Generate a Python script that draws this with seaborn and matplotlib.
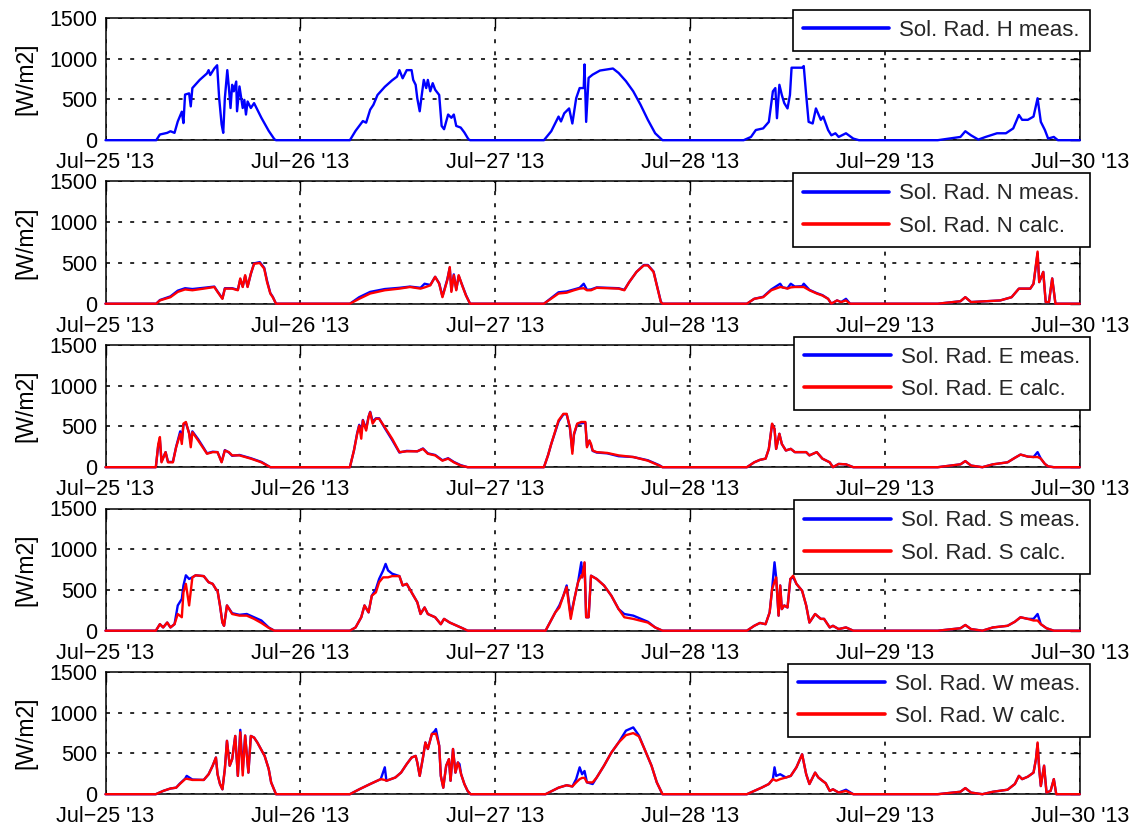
import numpy as np
import pandas as pd
import matplotlib
matplotlib.use("Agg")
import matplotlib.pyplot as plt
import matplotlib.dates as mdates
from matplotlib.lines import Line2D
import seaborn as sns

START = pd.Timestamp("2013-07-25")
N_DAYS = 5

# Readings: (hours since Jul-25 00:00, measured [, calculated]) in W/m2
H_obs = [
    (0, 0), (6.25, 0), (6.7, 70), (7.6, 90), (8.0, 110), (8.5, 90), (8.9, 230), (9.4, 350), (9.6, 210),
    (9.8, 560), (10.3, 575), (10.5, 415), (10.7, 640), (11.6, 740), (12.5, 820), (12.7, 860), (12.9, 800),
    (13.4, 880), (13.75, 920), (14.0, 515), (14.3, 195), (14.5, 90), (14.7, 515), (15.0, 860), (15.2, 640),
    (15.4, 395), (15.6, 680), (15.8, 600), (16.1, 720), (16.2, 355), (16.5, 660), (16.9, 395), (17.1, 495),
    (17.3, 315), (17.5, 475), (17.9, 395), (18.3, 455), (19.2, 275), (20.1, 115), (20.8, 12), (21.0, 0),
    (30.1, 0), (30.8, 115), (31.7, 235), (32.1, 215), (32.6, 375), (33.0, 435), (33.5, 555), (34.4, 655),
    (35.3, 735), (35.9, 780), (36.2, 860), (36.6, 760), (37.1, 860), (37.7, 860), (37.9, 740), (38.2, 680),
    (38.4, 515), (38.7, 355), (38.9, 515), (39.2, 740), (39.5, 640), (39.7, 740), (40.0, 600), (40.3, 700),
    (40.6, 620), (41.1, 555), (41.4, 175), (41.7, 135), (42.2, 315), (42.6, 275), (42.9, 315), (43.2, 175),
    (43.75, 155), (44.2, 95), (44.7, 12), (44.9, 0),
    (54.0, 0), (54.9, 110), (55.8, 290), (56.1, 230), (56.5, 330), (57.1, 390), (57.5, 205), (57.97, 515),
    (58.4, 640), (58.9, 640), (59.0, 930), (59.2, 225), (59.5, 765), (60.0, 805), (60.9, 855), (62.5, 880),
    (63.2, 825), (64.1, 725), (65.0, 600), (65.9, 435), (66.8, 250), (67.7, 85), (68.6, 0),
    (78.6, 0), (79.5, 40), (80.1, 125), (81.0, 145), (81.7, 225), (82.2, 600), (82.5, 640), (82.7, 270),
    (83.0, 680), (83.3, 555), (83.6, 455), (84.0, 390), (84.3, 555), (84.5, 890), (85.8, 890), (86.0, 910),
    (86.3, 555), (86.6, 225), (87.1, 205), (87.5, 390), (88.1, 250), (88.4, 290), (89.0, 125), (89.4, 60),
    (89.9, 85), (90.3, 40), (91.2, 85), (92.1, 20), (92.8, 0),
    (102.5, 0), (105.3, 40), (105.9, 110), (106.6, 60), (107.5, 8), (108.4, 40), (109.8, 85), (110.9, 85),
    (111.8, 145), (112.5, 310), (112.9, 250), (113.6, 250), (114.3, 290), (114.8, 515), (115.2, 225),
    (115.7, 125), (116.1, 20), (116.8, 40), (117.3, 0), (120, 0),
]

N_obs = [
    (0, 0, 0), (6.25, 0, 0), (6.7, 45, 40), (8.0, 90, 80), (8.9, 160, 145), (9.8, 190, 175), (10.7, 180, 165),
    (12.1, 195, 185), (13.4, 210, 205), (13.8, 150, 145), (14.4, 65, 60), (14.7, 190, 185), (15.6, 190, 185),
    (16.3, 170, 165), (16.6, 300, 310), (16.9, 210, 205), (17.2, 340, 350), (17.5, 210, 205), (17.9, 365, 370),
    (18.3, 495, 490), (19.0, 510, 500), (19.55, 440, 430), (19.9, 280, 265), (20.3, 130, 125), (20.6, 85, 80),
    (21.0, 0, 0),
    (30.1, 0, 0), (31.25, 80, 60), (32.6, 145, 125), (34.4, 180, 165), (36.2, 195, 185), (37.5, 210, 205),
    (38.8, 195, 185), (39.3, 245, 200), (40.0, 230, 225), (40.6, 330, 330), (41.1, 250, 245), (41.5, 90, 80),
    (42.1, 300, 290), (42.4, 440, 450), (42.6, 160, 145), (42.9, 360, 350), (43.2, 175, 165), (43.5, 340, 350),
    (44.0, 210, 205), (44.4, 105, 100), (44.9, 0, 0),
    (54.0, 0, 0), (55.8, 140, 125), (56.8, 150, 135), (57.7, 175, 165), (58.4, 195, 185), (58.9, 245, 190),
    (59.3, 170, 165), (59.8, 175, 165), (60.5, 200, 195), (63.2, 190, 185), (63.9, 170, 165), (64.5, 265, 265),
    (65.4, 390, 390), (66.3, 475, 470), (66.8, 475, 470), (67.5, 395, 390), (67.9, 230, 225), (68.4, 25, 20),
    (68.6, 0, 0),
    (79.0, 0, 0), (79.9, 60, 60), (81.0, 85, 80), (82.0, 175, 165), (83.1, 245, 205), (83.4, 200, 200),
    (84.0, 190, 185), (84.4, 245, 200), (84.9, 210, 205), (85.8, 215, 205), (86.0, 245, 205), (86.7, 170, 165),
    (87.6, 130, 125), (88.3, 105, 100), (89.0, 60, 60), (89.4, 0, 0), (90.1, 40, 40), (90.6, 20, 20),
    (91.2, 60, 40), (91.7, 0, 0), (92.6, 0, 0),
    (102.5, 0, 0), (105.3, 30, 30), (105.9, 80, 80), (106.6, 20, 20), (108.4, 30, 30), (110.2, 40, 40),
    (111.6, 80, 80), (112.5, 185, 185), (113.9, 185, 185), (114.3, 245, 245), (114.8, 620, 640),
    (115.0, 265, 265), (115.5, 390, 390), (115.8, 20, 20), (116.2, 20, 20), (116.6, 310, 310), (117.0, 0, 0),
    (120, 0, 0),
]

E_obs = [
    (0, 0, 0), (6.2, 0, 0), (6.5, 270, 285), (6.7, 330, 370), (6.9, 70, 60), (7.4, 185, 185), (7.7, 65, 60),
    (8.3, 65, 60), (8.7, 250, 245), (9.2, 440, 410), (9.4, 330, 285), (9.6, 520, 535), (9.9, 545, 555),
    (10.3, 420, 410), (10.5, 300, 245), (10.7, 440, 430), (11.4, 345, 330), (12.1, 235, 225), (12.5, 170, 165),
    (13.2, 190, 185), (13.8, 185, 185), (14.3, 65, 60), (14.7, 210, 205), (15.2, 180, 185), (15.6, 140, 145),
    (16.5, 150, 145), (17.9, 110, 105), (19.2, 65, 60), (20.3, 0, 0),
    (30.1, 0, 0), (30.6, 205, 205), (31.0, 420, 410), (31.25, 520, 510), (31.5, 420, 350), (31.7, 580, 575),
    (32.1, 470, 450), (32.4, 620, 615), (32.6, 680, 675), (32.9, 560, 535), (33.3, 600, 595), (33.7, 600, 595),
    (34.4, 480, 490), (35.3, 335, 350), (36.2, 180, 185), (37.1, 200, 195), (38.4, 195, 195), (39.1, 230, 225),
    (39.7, 170, 165), (40.6, 150, 145), (41.5, 85, 80), (42.2, 110, 105), (42.9, 65, 60), (43.75, 25, 20),
    (44.6, 0, 0),
    (54.0, 0, 0), (54.5, 145, 145), (54.9, 285, 285), (55.8, 560, 575), (56.4, 650, 655), (56.8, 650, 655),
    (57.2, 480, 490), (57.5, 200, 165), (57.7, 400, 410), (58.1, 530, 535), (58.6, 540, 555), (59.1, 545, 555),
    (59.3, 260, 245), (59.6, 320, 330), (59.8, 270, 285), (60.0, 200, 205), (60.5, 180, 185), (61.8, 170, 175),
    (63.2, 135, 145), (65.0, 125, 125), (66.8, 85, 80), (68.2, 25, 20), (68.6, 0, 0),
    (79.0, 0, 0), (79.9, 60, 60), (80.6, 90, 90), (81.3, 105, 105), (81.7, 225, 225), (82.1, 530, 535),
    (82.4, 470, 470), (82.6, 225, 225), (83.0, 410, 410), (83.3, 285, 285), (83.8, 205, 205), (84.4, 225, 225),
    (84.9, 185, 185), (86.3, 185, 185), (86.7, 145, 145), (87.6, 185, 185), (88.3, 105, 105), (89.2, 60, 60),
    (89.6, 0, 0), (90.3, 40, 40), (91.2, 35, 35), (92.1, 0, 0),
    (102.5, 0, 0), (105.3, 35, 35), (105.9, 75, 75), (106.6, 20, 20), (108.0, 0, 0), (109.3, 35, 35),
    (111.1, 60, 60), (112.0, 115, 115), (112.7, 155, 155), (113.6, 130, 130), (114.3, 125, 125),
    (114.8, 185, 125), (115.2, 105, 105), (115.7, 40, 40), (116.1, 10, 10), (116.8, 0, 0), (120, 0, 0),
]

S_obs = [
    (0, 0, 0), (6.2, 0, 0), (6.7, 80, 80), (7.1, 40, 40), (7.6, 100, 100), (8.0, 40, 40), (8.5, 80, 80),
    (8.9, 310, 205), (9.4, 390, 165), (9.6, 555, 470), (9.9, 680, 575), (10.3, 635, 310), (10.7, 655, 655),
    (11.1, 680, 680), (12.1, 670, 670), (12.7, 595, 595), (13.2, 575, 575), (13.6, 510, 510), (13.8, 490, 490),
    (14.1, 310, 310), (14.4, 100, 100), (14.6, 60, 60), (14.96, 310, 310), (15.6, 215, 205), (16.5, 195, 185),
    (17.4, 205, 185), (18.3, 165, 145), (19.2, 125, 95), (20.1, 40, 35), (20.8, 0, 0),
    (30.1, 0, 0), (30.8, 40, 40), (31.5, 165, 165), (31.9, 310, 310), (32.4, 225, 225), (32.8, 430, 430),
    (33.3, 510, 470), (33.7, 635, 595), (34.2, 740, 655), (34.5, 820, 655), (34.8, 740, 655), (35.3, 700, 670),
    (36.2, 670, 670), (36.6, 555, 555), (37.1, 575, 575), (37.7, 470, 470), (38.4, 350, 350), (38.8, 205, 205),
    (39.3, 285, 285), (39.7, 205, 205), (40.6, 165, 165), (41.3, 80, 80), (41.7, 145, 145), (42.4, 100, 100),
    (43.3, 60, 60), (43.975, 30, 30), (44.6, 0, 0),
    (54.2, 0, 0), (55.4, 225, 225), (55.9, 310, 285), (56.4, 430, 430), (56.8, 555, 535), (57.3, 185, 145),
    (57.75, 390, 390), (58.2, 595, 595), (58.6, 840, 675), (58.7, 655, 655), (59.0, 830, 840), (59.2, 165, 165),
    (59.5, 165, 165), (59.8, 675, 675), (60.5, 635, 635), (61.4, 555, 555), (62.3, 430, 430), (63.2, 265, 265),
    (63.9, 205, 165), (65.0, 185, 145), (66.8, 110, 100), (67.7, 40, 40), (68.6, 0, 0),
    (79.0, 0, 0), (79.9, 60, 60), (80.6, 95, 95), (81.3, 80, 80), (81.8, 225, 225), (82.1, 510, 510),
    (82.4, 840, 600), (82.6, 655, 655), (82.9, 185, 185), (83.1, 555, 555), (83.3, 265, 265), (83.6, 310, 310),
    (84.0, 285, 285), (84.35, 635, 635), (84.7, 655, 675), (85.1, 575, 575), (85.8, 490, 490), (86.3, 310, 310),
    (86.7, 100, 100), (87.4, 205, 205), (88.1, 145, 145), (88.5, 145, 145), (89.2, 40, 40), (89.6, 60, 60),
    (90.3, 20, 20), (91.2, 40, 40), (92.1, 0, 0),
    (102.5, 0, 0), (105.3, 30, 30), (105.9, 70, 70), (106.6, 20, 20), (108.0, 0, 0), (109.3, 40, 40),
    (111.1, 60, 60), (112.0, 110, 110), (112.7, 165, 165), (113.6, 145, 145), (114.3, 145, 125),
    (114.8, 205, 125), (115.2, 80, 80), (115.9, 30, 30), (116.8, 0, 0), (120, 0, 0),
]

W_obs = [
    (0, 0, 0), (6.2, 0, 0), (7.1, 40, 40), (8.0, 70, 70), (8.7, 80, 80), (9.15, 130, 125), (9.8, 190, 185),
    (10.0, 225, 190), (10.7, 180, 175), (12.1, 175, 175), (12.7, 245, 245), (13.2, 350, 350), (13.6, 450, 450),
    (13.8, 245, 245), (14.1, 125, 125), (14.4, 60, 60), (14.7, 310, 310), (14.96, 655, 655), (15.3, 350, 350),
    (15.6, 430, 430), (15.98, 715, 715), (16.3, 225, 225), (16.6, 790, 760), (16.9, 300, 230), (17.2, 720, 720),
    (17.6, 265, 265), (17.9, 715, 715), (18.3, 695, 695), (18.7, 635, 635), (19.6, 470, 470), (20.1, 310, 310),
    (20.4, 145, 145), (21.0, 0, 0),
    (30.1, 0, 0), (31.25, 60, 60), (32.6, 125, 125), (33.9, 185, 185), (34.4, 330, 175), (34.6, 165, 165),
    (35.7, 205, 205), (36.4, 265, 265), (37.1, 370, 370), (37.7, 450, 450), (38.2, 470, 470), (38.4, 390, 390),
    (38.7, 225, 225), (39.1, 450, 450), (39.4, 635, 635), (39.7, 555, 555), (40.2, 740, 740), (40.6, 780, 740),
    (40.7, 800, 745), (41.1, 595, 595), (41.3, 225, 225), (41.6, 80, 80), (41.96, 350, 350), (42.3, 430, 430),
    (42.5, 165, 165), (42.8, 555, 555), (43.1, 265, 265), (43.4, 390, 390), (43.6, 370, 330), (43.8, 245, 245),
    (44.2, 125, 125), (44.6, 40, 40), (44.96, 0, 0),
    (54.2, 0, 0), (55.8, 80, 80), (56.8, 110, 110), (57.5, 95, 95), (57.97, 185, 145), (58.4, 330, 185),
    (58.7, 245, 200), (59.0, 285, 200), (59.3, 145, 145), (60.0, 125, 145), (60.5, 205, 205), (61.4, 350, 350),
    (62.3, 510, 510), (63.2, 635, 635), (64.1, 780, 725), (65.0, 820, 750), (65.7, 720, 710), (66.3, 575, 575),
    (67.25, 350, 350), (67.9, 145, 145), (68.4, 40, 40), (68.6, 0, 0),
    (79.0, 0, 0), (79.9, 40, 40), (80.8, 80, 80), (81.7, 125, 125), (82.2, 185, 185), (82.4, 330, 175),
    (82.6, 225, 165), (83.1, 245, 185), (83.8, 205, 205), (84.4, 225, 225), (85.1, 330, 330), (85.8, 490, 490),
    (86.3, 245, 245), (86.7, 125, 125), (87.4, 265, 265), (87.8, 205, 205), (88.3, 165, 165), (88.7, 135, 135),
    (89.2, 40, 40), (89.6, 60, 60), (90.3, 20, 20), (91.2, 55, 40), (92.1, 0, 0),
    (102.5, 0, 0), (105.3, 30, 30), (105.9, 75, 75), (106.6, 20, 20), (108.0, 0, 0), (109.3, 30, 30),
    (111.1, 55, 55), (112.0, 125, 125), (112.5, 225, 225), (112.9, 185, 185), (113.6, 215, 215),
    (114.3, 265, 265), (114.6, 430, 430), (114.8, 620, 635), (115.0, 310, 310), (115.2, 100, 100),
    (115.6, 350, 350), (115.9, 20, 20), (116.4, 40, 40), (116.8, 185, 185), (117.1, 0, 0), (120, 0, 0),
]

PANELS = [
    ("H", H_obs, ["Sol. Rad. H meas."]),
    ("N", N_obs, ["Sol. Rad. N meas.", "Sol. Rad. N calc."]),
    ("E", E_obs, ["Sol. Rad. E meas.", "Sol. Rad. E calc."]),
    ("S", S_obs, ["Sol. Rad. S meas.", "Sol. Rad. S calc."]),
    ("W", W_obs, ["Sol. Rad. W meas.", "Sol. Rad. W calc."]),
]
COLORS = ["#0000ff", "#ff0000"]
Y_TICKS = [0, 500, 1000, 1500]


def to_frame(rows, names):
    arr = np.asarray(rows, dtype=float)
    time = START + pd.to_timedelta(arr[:, 0], unit="h")
    parts = [pd.DataFrame({"time": time, "value": arr[:, i + 1], "series": name})
             for i, name in enumerate(names)]
    return pd.concat(parts, ignore_index=True)


sns.set_theme(style="white")
plt.rcParams["font.family"] = ["Liberation Sans", "DejaVu Sans"]
plt.rcParams["axes.unicode_minus"] = True

FW, FH = 1136, 827
fig = plt.figure(figsize=(FW / 100, FH / 100), dpi=100)
fig.patch.set_facecolor("white")

left_px, right_px = 105.5, 1079.8
panel_h = 122.2
tops_px = [18.0, 181.5, 345.0, 508.5, 672.0]

days = [START + pd.Timedelta(days=d) for d in range(N_DAYS + 1)]

for (key, rows, names), top in zip(PANELS, tops_px):
    ax = fig.add_axes([left_px / FW, 1 - (top + panel_h) / FH,
                       (right_px - left_px) / FW, panel_h / FH])
    df = to_frame(rows, names)
    sns.lineplot(data=df, x="time", y="value", hue="series", hue_order=names,
                 palette=COLORS[:len(names)], estimator=None, sort=False,
                 linewidth=1.7, legend=False, ax=ax, clip_on=False, zorder=3)

    ax.set_xlim(days[0], days[-1])
    ax.set_ylim(0, 1500)
    ax.set_xticks(days)
    ax.xaxis.set_major_formatter(mdates.DateFormatter("%b\u2212%d '%y"))
    ax.set_yticks(Y_TICKS)
    ax.set_xlabel("")
    ax.set_ylabel("[W/m2]", fontsize=16.5, labelpad=8, color="black")

    ax.grid(True, color="#1a1a1a", linestyle=(0, (2.2, 4.5)), linewidth=1.3)
    ax.tick_params(direction="in", top=True, right=True, length=7, width=1,
                   labelsize=15.5, colors="black")
    ax.tick_params(axis="x", pad=8.5)
    ax.tick_params(axis="y", pad=6)
    for sp in ax.spines.values():
        sp.set_visible(True)
        sp.set_color("black")
        sp.set_linewidth(1.1)
        sp.set_zorder(2.5)

    handles = [Line2D([0], [0], color=COLORS[i], linewidth=2.6) for i in range(len(names))]
    leg = ax.legend(handles, names, loc="upper right", bbox_to_anchor=(1.0104, 1.066),
                    borderaxespad=0, fontsize=16, frameon=True, fancybox=False,
                    edgecolor="black", framealpha=1, handlelength=3.9,
                    handletextpad=0.45, borderpad=0.45, labelspacing=0.5)
    leg.get_frame().set_linewidth(1.2)
    leg.set_zorder(10)

fig.savefig("out.png", dpi=100, facecolor="white")
